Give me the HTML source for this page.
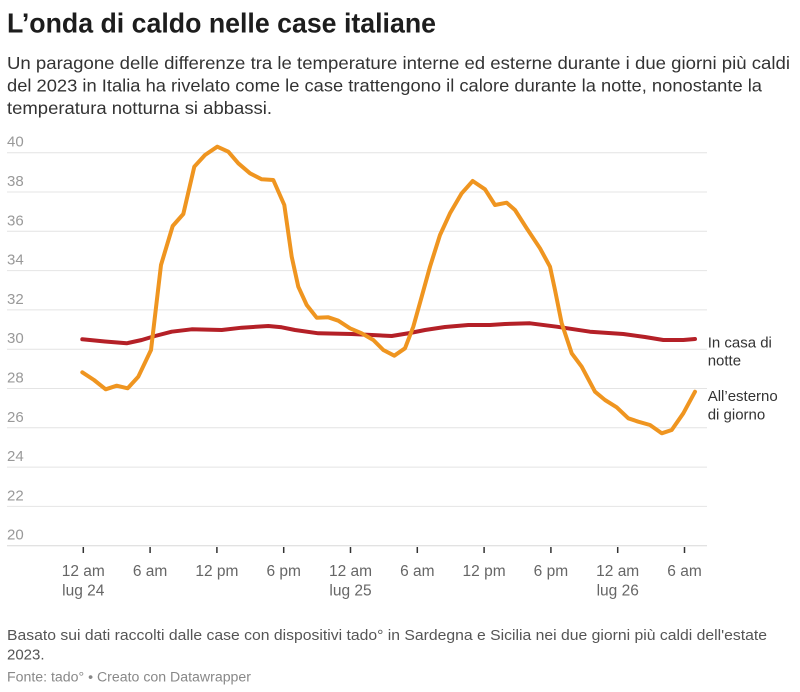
<!DOCTYPE html>
<html><head><meta charset="utf-8"><style>
html,body{margin:0;padding:0;background:#fff;}
svg{display:block;font-family:"Liberation Sans",sans-serif;}
</style></head><body>
<svg width="800" height="692" viewBox="0 0 800 692" xmlns="http://www.w3.org/2000/svg">
<rect width="800" height="692" fill="#fff"/>
<text x="7" y="32.3" font-size="28" font-weight="bold" fill="#1d1d1d" textLength="429" lengthAdjust="spacingAndGlyphs">L’onda di caldo nelle case italiane</text>
<g font-size="17.5" fill="#333">
<text x="7" y="69" textLength="783" lengthAdjust="spacingAndGlyphs">Un paragone delle differenze tra le temperature interne ed esterne durante i due giorni più caldi</text>
<text x="7" y="91.5" textLength="755" lengthAdjust="spacingAndGlyphs">del 2023 in Italia ha rivelato come le case trattengono il calore durante la notte, nonostante la</text>
<text x="7" y="114" textLength="265" lengthAdjust="spacingAndGlyphs">temperatura notturna si abbassi.</text>
</g>
<g stroke="#e4e4e4" stroke-width="1">
<line x1="7" x2="707" y1="152.7" y2="152.7"/>
<line x1="7" x2="707" y1="192" y2="192"/>
<line x1="7" x2="707" y1="231.3" y2="231.3"/>
<line x1="7" x2="707" y1="270.6" y2="270.6"/>
<line x1="7" x2="707" y1="309.9" y2="309.9"/>
<line x1="7" x2="707" y1="349.2" y2="349.2"/>
<line x1="7" x2="707" y1="388.5" y2="388.5"/>
<line x1="7" x2="707" y1="427.8" y2="427.8"/>
<line x1="7" x2="707" y1="467.1" y2="467.1"/>
<line x1="7" x2="707" y1="506.4" y2="506.4"/>
<line x1="7" x2="707" y1="545.7" y2="545.7" stroke="#d8d8d8"/>
</g>
<g font-size="15" fill="#999">
<text x="7" y="146.7">40</text>
<text x="7" y="186">38</text>
<text x="7" y="225.3">36</text>
<text x="7" y="264.6">34</text>
<text x="7" y="303.9">32</text>
<text x="7" y="343.2">30</text>
<text x="7" y="382.5">28</text>
<text x="7" y="421.8">26</text>
<text x="7" y="461.1">24</text>
<text x="7" y="500.4">22</text>
<text x="7" y="539.7">20</text>
</g>
<g stroke="#333" stroke-width="1.5">
<line x1="83.3" x2="83.3" y1="547" y2="553"/>
<line x1="150.1" x2="150.1" y1="547" y2="553"/>
<line x1="216.9" x2="216.9" y1="547" y2="553"/>
<line x1="283.7" x2="283.7" y1="547" y2="553"/>
<line x1="350.5" x2="350.5" y1="547" y2="553"/>
<line x1="417.3" x2="417.3" y1="547" y2="553"/>
<line x1="484.1" x2="484.1" y1="547" y2="553"/>
<line x1="550.9" x2="550.9" y1="547" y2="553"/>
<line x1="617.7" x2="617.7" y1="547" y2="553"/>
<line x1="684.5" x2="684.5" y1="547" y2="553"/>
</g>
<g font-size="15.5" fill="#666" text-anchor="middle">
<text x="83.3" y="576">12 am</text><text x="83.3" y="595.5">lug 24</text>
<text x="150.1" y="576">6 am</text>
<text x="216.9" y="576">12 pm</text>
<text x="283.7" y="576">6 pm</text>
<text x="350.5" y="576">12 am</text><text x="350.5" y="595.5">lug 25</text>
<text x="417.3" y="576">6 am</text>
<text x="484.1" y="576">12 pm</text>
<text x="550.9" y="576">6 pm</text>
<text x="617.7" y="576">12 am</text><text x="617.7" y="595.5">lug 26</text>
<text x="684.5" y="576">6 am</text>
</g>
<polyline fill="none" stroke="#b42027" stroke-width="4" stroke-linejoin="round" stroke-linecap="round" points="82.3,339.3 105,341.5 126.7,343.3 141.7,340 155,336 171.7,331.7 191.7,329.3 221.7,330 241.7,327.7 268.3,326 281.7,327.3 295,330 318.3,333.3 351.7,334 391.7,336 410,333 425,330 445,327 468.3,325 490,325 505,324 530,323.3 556.7,326.7 590,331.7 623.3,334 645,337 663.3,340 683.3,340 695,339"/>
<polyline fill="none" stroke="#ef9520" stroke-width="4" stroke-linejoin="round" stroke-linecap="round" points="82.3,372.3 94,380 105.7,389.3 116.7,385.7 127.7,388.3 138.3,376.7 151,350 161,265 172.7,226 183.3,214 194.3,166.7 205,155 217.3,146.7 228.3,151.7 238.3,163.3 250,173.3 261.7,179.3 273.3,180 284.3,205 291.7,256.7 298.3,286.7 306.7,305 316.7,317.7 328.3,317.3 338.3,320.7 350,328.3 361.7,333.3 373.3,340 383.3,350 394.3,355.7 405,348.3 413.3,326.7 421.7,296.7 430,266.7 440,235 450,213.3 461.7,193.3 472.7,181 485,189.3 495,205 506.7,202.7 515,210 526.7,228.3 540,248.3 550,266.7 555,290 561.7,323.3 571.7,353.3 581.7,366.7 595,391.7 605,400 616.7,407.3 628.3,418.3 638.3,421.7 650,425 661.7,433.3 671.7,430 683.3,413.3 695,391.7"/>
<g font-size="15" fill="#333">
<text x="707.7" y="347.7">In casa di</text>
<text x="707.7" y="365.7">notte</text>
<text x="707.7" y="401">All’esterno</text>
<text x="707.7" y="419.3">di giorno</text>
</g>
<g font-size="15" fill="#555">
<text x="7" y="640" textLength="760" lengthAdjust="spacingAndGlyphs">Basato sui dati raccolti dalle case con dispositivi tado° in Sardegna e Sicilia nei due giorni più caldi dell'estate</text>
<text x="7" y="659.3">2023.</text>
</g>
<text x="7" y="681.7" font-size="13.5" fill="#888" textLength="244" lengthAdjust="spacingAndGlyphs">Fonte: tado° • Creato con Datawrapper</text>
</svg>
</body></html>
